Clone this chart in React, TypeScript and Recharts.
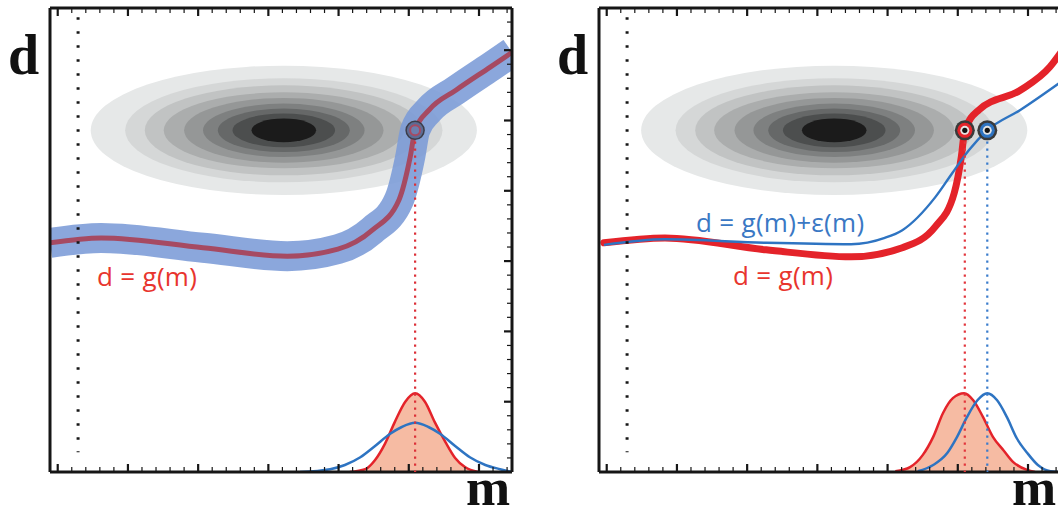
import React from 'react';
import { ComposedChart, XAxis, YAxis, Line, Area, Scatter, ReferenceLine } from 'recharts';

// model space m (x) and data space d (y)
const M_DOMAIN: [number, number] = [-1.11, 5.47];
const D_DOMAIN: [number, number] = [0, 6.6];
const M_TICKS = [
  -1, -0.8, -0.6, -0.4, -0.2, 0, 0.2, 0.4, 0.6, 0.8, 1, 1.2, 1.4, 1.6, 1.8, 2, 2.2, 2.4, 2.6, 2.8, 3,
  3.2, 3.4, 3.6, 3.8, 4, 4.2, 4.4, 4.6, 4.8, 5, 5.2, 5.4,
];
const D_TICKS = [
  0.2, 0.4, 0.6, 0.8, 1, 1.2, 1.4, 1.6, 1.8, 2, 2.2, 2.4, 2.6, 2.8, 3, 3.2, 3.4, 3.6, 3.8, 4, 4.2, 4.4,
  4.6, 4.8, 5, 5.2, 5.4, 5.6, 5.8, 6, 6.2, 6.4,
];

// d = g(m), left panel
const G_LEFT: [number, number][] = [
  [-1.11, 3.26], [-0.38, 3.33], [1.07, 3.19], [2.27, 3.07], [2.99, 3.17], [3.48, 3.44], [3.86, 3.87],
  [4.02, 4.48], [4.09, 4.86], [4.29, 5.15], [4.67, 5.43], [5.16, 5.76], [5.47, 5.97],
];
// right panel: exact g(m) and g(m)+eps(m)
const G_RIGHT: [number, number][] = [
  [-1.04, 3.26], [-0.17, 3.33], [1.27, 3.16], [2.48, 3.06], [3.21, 3.19], [3.68, 3.49], [3.95, 3.97],
  [4.05, 4.48], [4.1, 4.86], [4.3, 5.15], [4.89, 5.43], [5.31, 5.76], [5.47, 5.97],
];
const G_EPS_RIGHT: [number, number][] = [
  [-1.04, 3.23], [-0.17, 3.31], [1.27, 3.26], [2.48, 3.24], [2.96, 3.33], [3.21, 3.44], [3.68, 3.91],
  [3.92, 4.25], [4.16, 4.58], [4.42, 4.86], [4.89, 5.15], [5.47, 5.55],
];

// posterior densities along m
const PDF_RED_LEFT: [number, number][] = [
  [3.16, 0], [3.38, 0.04], [3.52, 0.17], [3.66, 0.4], [3.8, 0.71], [3.95, 1.0], [4.09, 1.12],
  [4.23, 1.0], [4.37, 0.71], [4.52, 0.43], [4.66, 0.2], [4.8, 0.07], [4.99, 0],
];
const PDF_BLUE_LEFT: [number, number][] = [
  [2.45, 0], [2.88, 0.04], [3.09, 0.1], [3.31, 0.21], [3.52, 0.37], [3.73, 0.54], [3.9, 0.64],
  [4.09, 0.7], [4.28, 0.64], [4.45, 0.54], [4.66, 0.37], [4.87, 0.21], [5.09, 0.1], [5.3, 0.04],
  [5.47, 0],
];
const PDF_RED_RIGHT: [number, number][] = [
  [3.11, 0.01], [3.32, 0.07], [3.5, 0.24], [3.65, 0.5], [3.79, 0.84], [3.93, 1.05], [4.09, 1.12],
  [4.22, 1.02], [4.36, 0.78], [4.5, 0.5], [4.65, 0.31], [4.79, 0.14], [4.99, 0.03], [5.1, 0],
];
const PDF_BLUE_RIGHT: [number, number][] = [
  [3.43, 0.01], [3.65, 0.1], [3.85, 0.27], [3.99, 0.5], [4.13, 0.78], [4.28, 1.02], [4.42, 1.12],
  [4.56, 1.02], [4.7, 0.78], [4.84, 0.48], [4.99, 0.27], [5.14, 0.1], [5.32, 0.01], [5.47, 0],
];

// prior p(m,d) contour levels (semi axes in m and d units), outer to inner
const CONTOUR_RX = [2.75, 2.26, 1.98, 1.71, 1.42, 1.15, 0.94, 0.73, 0.46];
const CONTOUR_RY = [0.92, 0.74, 0.64, 0.54, 0.46, 0.38, 0.31, 0.24, 0.17];
const CONTOUR_CENTER_LEFT = { m: 2.22, d: 4.86 };
const CONTOUR_CENTER_RIGHT = { m: 2.24, d: 4.86 };
const SHADES = ['#e6e8e8', '#d5d7d7', '#c1c3c3', '#abadad', '#959797', '#7e8080', '#666868', '#4c4e4e', '#1b1b1b'];

// observed d, and where it meets each curve
const D_OBS = 4.86;
const HIT_LEFT = 4.09;
const HIT_RED_RIGHT = 4.1;
const HIT_BLUE_RIGHT = 4.42;
const DOT_COL_M = -0.71;
const DOT_COL_D: [number, number] = [0.28, 6.47];

const W = 530;
const H = 518;
// axes are 1px thick boxes, so the plot runs 50..512 x 8..472
const MARGIN = { top: 7, right: 17, bottom: 45, left: 49 };
const PX_M = (W - MARGIN.left - MARGIN.right - 2) / (M_DOMAIN[1] - M_DOMAIN[0]);
const PX_D = (H - MARGIN.top - MARGIN.bottom - 2) / (D_DOMAIN[1] - D_DOMAIN[0]);

const RED = '#e4232a';
const BLUE = '#2e74c2';
const FILL = '#f6bba3';
const INK = '#161616';

const pts = (a: [number, number][]) => a.map(([m, d]) => ({ m, d }));
const contours = (c: { m: number; d: number }) =>
  CONTOUR_RX.map((rx, i) => ({ m: c.m, d: c.d, rx, ry: CONTOUR_RY[i], level: i }));

const isMajor = (v: number) => Math.abs(v - Math.round(v)) < 0.01;

const tickMark = (side: 'top' | 'bottom' | 'right') => (p: any) => {
  const len = isMajor(p.payload.value) ? 8 : 5;
  const w = isMajor(p.payload.value) ? 2.2 : 1.2;
  if (side === 'bottom') return <line x1={p.x} x2={p.x} y1={p.y} y2={p.y - len} stroke={INK} strokeWidth={w} />;
  if (side === 'top') return <line x1={p.x} x2={p.x} y1={p.y} y2={p.y + len} stroke={INK} strokeWidth={w} />;
  return <line x1={p.x} x2={p.x - len} y1={p.y} y2={p.y} stroke={INK} strokeWidth={w} />;
};

const EllipseShape = (p: any) => {
  const cx = p.cx ?? p.x + (p.width || 0) / 2;
  const cy = p.cy ?? p.y + (p.height || 0) / 2;
  return (
    <ellipse cx={cx} cy={cy} rx={p.payload.rx * PX_M} ry={p.payload.ry * PX_D} fill={SHADES[p.payload.level]} />
  );
};

const markerShape = (color: string, soft: boolean) => (p: any) => {
  const cx = p.cx ?? p.x + (p.width || 0) / 2;
  const cy = p.cy ?? p.y + (p.height || 0) / 2;
  if (soft) {
    return (
      <g>
        <circle cx={cx} cy={cy} r={9} fill="#5d6c95" stroke="#3c3c48" strokeWidth={1.5} />
        <circle cx={cx} cy={cy} r={5} fill="#6d7fae" stroke={color} strokeWidth={2} />
      </g>
    );
  }
  return (
    <g>
      <circle cx={cx} cy={cy} r={10} fill="#3a3a3a" />
      <circle cx={cx} cy={cy} r={7.5} fill={color} />
      <circle cx={cx} cy={cy} r={4.5} fill="#e4e4e4" />
      <circle cx={cx} cy={cy} r={2.6} fill="#111" />
    </g>
  );
};

const frame = (rightTicks: boolean) => [
  <XAxis
    key="xb"
    type="number"
    dataKey="m"
    domain={M_DOMAIN}
    allowDataOverflow
    ticks={M_TICKS}
    interval={0}
    height={1}
    tickSize={0}
    tickMargin={0}
    tickLine={false}
    tick={tickMark('bottom')}
    axisLine={{ stroke: INK, strokeWidth: 3 }}
  />,
  <XAxis
    key="xt"
    xAxisId="top"
    orientation="top"
    type="number"
    dataKey="m"
    domain={M_DOMAIN}
    allowDataOverflow
    ticks={M_TICKS}
    interval={0}
    height={1}
    tickSize={0}
    tickMargin={0}
    tickLine={false}
    tick={tickMark('top')}
    axisLine={{ stroke: INK, strokeWidth: 3 }}
  />,
  <YAxis
    key="yl"
    type="number"
    dataKey="d"
    domain={D_DOMAIN}
    allowDataOverflow
    width={1}
    tick={false}
    tickLine={false}
    axisLine={{ stroke: INK, strokeWidth: 3 }}
  />,
  <YAxis
    key="yr"
    yAxisId="right"
    orientation="right"
    type="number"
    dataKey="d"
    domain={D_DOMAIN}
    allowDataOverflow
    ticks={D_TICKS}
    interval={0}
    width={1}
    tickSize={0}
    tickMargin={0}
    tickLine={false}
    tick={rightTicks ? tickMark('right') : false}
    axisLine={{ stroke: INK, strokeWidth: 3 }}
  />,
];

const dotColumn = () => (
  <ReferenceLine
    segment={[
      { x: DOT_COL_M, y: DOT_COL_D[1] },
      { x: DOT_COL_M, y: DOT_COL_D[0] },
    ]}
    stroke={INK}
    strokeWidth={3}
    strokeDasharray="2.5 11.5"
    zIndex={500}
  />
);

const drop = (m: number, color: string) => (
  <ReferenceLine
    segment={[
      { x: m, y: D_OBS - 0.16 },
      { x: m, y: 0 },
    ]}
    stroke={color}
    strokeWidth={2.2}
    strokeDasharray="2.2 4.8"
    zIndex={500}
  />
);

function LeftPanel() {
  return (
    <ComposedChart width={W} height={H} margin={MARGIN}>
      {frame(true)}
      <Scatter
        data={contours(CONTOUR_CENTER_LEFT)}
        dataKey="d"
        shape={EllipseShape}
        zIndex={50}
        isAnimationActive={false}
      />
      <Area
        data={pts(PDF_RED_LEFT)}
        dataKey="d"
        type="monotone"
        stroke={RED}
        strokeWidth={2.5}
        fill={FILL}
        fillOpacity={1}
        zIndex={100}
        isAnimationActive={false}
      />
      <Line data={pts(PDF_BLUE_LEFT)} dataKey="d" type="monotone" stroke={BLUE} strokeWidth={2.5} dot={false} zIndex={400} isAnimationActive={false} />
      <Line
        data={pts(G_LEFT)}
        dataKey="d"
        type="monotone"
        stroke="#7b9bd7"
        strokeOpacity={0.88}
        strokeWidth={30}
        strokeLinecap="butt"
        strokeLinejoin="round"
        dot={false}
        zIndex={400}
        isAnimationActive={false}
      />
      <Line data={pts(G_LEFT)} dataKey="d" type="monotone" stroke="#a64a62" strokeWidth={5} dot={false} zIndex={410} isAnimationActive={false} />
      {dotColumn()}
      {drop(HIT_LEFT, '#dc3038')}
      <Scatter
        data={[{ m: HIT_LEFT, d: D_OBS }]}
        dataKey="d"
        shape={markerShape('#a64a62', true)}
        zIndex={700}
        isAnimationActive={false}
      />
    </ComposedChart>
  );
}

function RightPanel() {
  return (
    <ComposedChart width={W} height={H} margin={MARGIN}>
      {frame(false)}
      <Scatter
        data={contours(CONTOUR_CENTER_RIGHT)}
        dataKey="d"
        shape={EllipseShape}
        zIndex={50}
        isAnimationActive={false}
      />
      <Area
        data={pts(PDF_RED_RIGHT)}
        dataKey="d"
        type="monotone"
        stroke={RED}
        strokeWidth={2.5}
        fill={FILL}
        fillOpacity={1}
        zIndex={100}
        isAnimationActive={false}
      />
      <Line data={pts(PDF_BLUE_RIGHT)} dataKey="d" type="monotone" stroke={BLUE} strokeWidth={2.5} dot={false} zIndex={400} isAnimationActive={false} />
      <Line
        data={pts(G_RIGHT)}
        dataKey="d"
        type="monotone"
        stroke={RED}
        strokeWidth={7}
        strokeLinecap="round"
        dot={false}
        zIndex={400}
        isAnimationActive={false}
      />
      <Line data={pts(G_EPS_RIGHT)} dataKey="d" type="monotone" stroke={BLUE} strokeWidth={2.4} dot={false} zIndex={410} isAnimationActive={false} />
      {dotColumn()}
      {drop(HIT_RED_RIGHT, '#e2353c')}
      {drop(HIT_BLUE_RIGHT, '#3a7ccc')}
      <Scatter
        data={[{ m: HIT_RED_RIGHT, d: D_OBS }]}
        dataKey="d"
        shape={markerShape(RED, false)}
        zIndex={700}
        isAnimationActive={false}
      />
      <Scatter
        data={[{ m: HIT_BLUE_RIGHT, d: D_OBS }]}
        dataKey="d"
        shape={markerShape(BLUE, false)}
        zIndex={700}
        isAnimationActive={false}
      />
    </ComposedChart>
  );
}

const serif = { fontFamily: '"Liberation Serif", "Times New Roman", serif', fontWeight: 700, fontSize: 56, fill: '#111' };
const serifM = { ...serif, fontSize: 53 };
const sans = { fontFamily: '"Open Sans", "Noto Sans", sans-serif', fontSize: 26, letterSpacing: 0.3 };

export default function App() {
  return (
    <div style={{ position: 'absolute', left: 0, top: 0, width: 1058, height: 518, overflow: 'hidden', background: '#fff' }}>
      <div style={{ position: 'absolute', left: 0, top: 0 }}>
        <LeftPanel />
      </div>
      <div style={{ position: 'absolute', left: 549, top: 0 }}>
        <RightPanel />
      </div>
      <svg width={1058} height={518} style={{ position: 'absolute', left: 0, top: 0, pointerEvents: 'none' }}>
        <text x={8} y={74} style={serif}>d</text>
        <text x={557} y={74} style={serif}>d</text>
        <text x={466} y={505} style={serifM}>m</text>
        <text x={1012} y={505} style={serifM}>m</text>
        <text x={97} y={286} fill="#e8352e" style={sans}>d = g(m)</text>
        <text x={696} y={232} fill="#3a78c4" style={sans}>d = g(m)+ε(m)</text>
        <text x={733} y={285} fill="#e8352e" style={sans}>d = g(m)</text>
      </svg>
    </div>
  );
}
